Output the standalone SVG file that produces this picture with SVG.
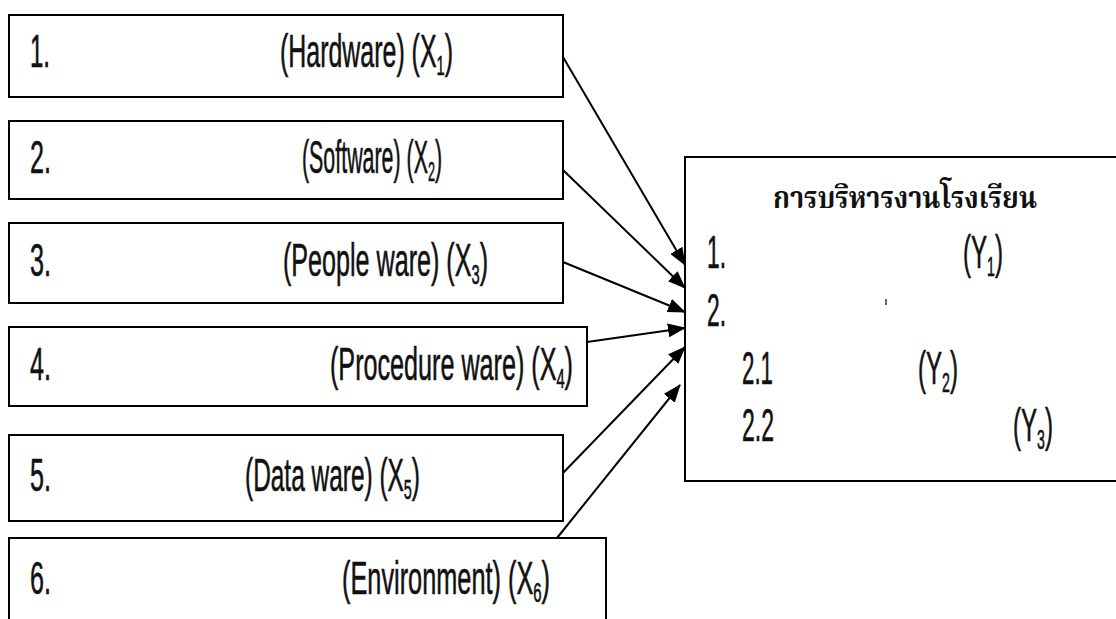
<svg xmlns="http://www.w3.org/2000/svg" width="1116" height="619" viewBox="0 0 1116 619">
<style>
.box{fill:#fff;stroke:#000;stroke-width:2}
.t{font-family:"Liberation Sans Narrow","Liberation Sans","DejaVu Sans Condensed",sans-serif;font-size:46px;fill:#111;stroke:#111;stroke-width:0.6}
.sub{font-size:27px}
.th{font-family:"Noto Serif Thai","Noto Sans Thai","Tlwg Typo","Loma","Garuda","DejaVu Serif",serif;font-weight:bold;font-size:31px;fill:#111}
.conn{stroke:#000;stroke-width:2;fill:none}
</style>
<defs>
<marker id="ah" markerUnits="userSpaceOnUse" markerWidth="18" markerHeight="14" refX="17" refY="7" orient="auto">
<path d="M0,0 L18,7 L0,14 z" fill="#000"/>
</marker>
</defs>
<rect width="1116" height="619" fill="#fff"/>
<g id="n1">
<rect class="box" x="9" y="15" width="554" height="82"/>
<text class="t" x="30" y="67" textLength="20" lengthAdjust="spacingAndGlyphs">1.</text>
<text class="t" x="280" y="67" textLength="173" lengthAdjust="spacingAndGlyphs">(Hardware) (X<tspan class="sub" dy="8">1</tspan><tspan dy="-8">)</tspan></text>
</g>
<g id="n2">
<rect class="box" x="9" y="121" width="554" height="78"/>
<text class="t" x="30" y="173" textLength="21" lengthAdjust="spacingAndGlyphs">2.</text>
<text class="t" x="302" y="173" textLength="140" lengthAdjust="spacingAndGlyphs">(Software) (X<tspan class="sub" dy="8">2</tspan><tspan dy="-8">)</tspan></text>
</g>
<g id="n3">
<rect class="box" x="9" y="223" width="554" height="80"/>
<text class="t" x="30" y="276" textLength="21" lengthAdjust="spacingAndGlyphs">3.</text>
<text class="t" x="283" y="276" textLength="205" lengthAdjust="spacingAndGlyphs">(People ware) (X<tspan class="sub" dy="8">3</tspan><tspan dy="-8">)</tspan></text>
</g>
<g id="n4">
<rect class="box" x="9" y="327" width="578" height="79"/>
<text class="t" x="30" y="380" textLength="21" lengthAdjust="spacingAndGlyphs">4.</text>
<text class="t" x="330" y="380" textLength="243" lengthAdjust="spacingAndGlyphs">(Procedure ware) (X<tspan class="sub" dy="8">4</tspan><tspan dy="-8">)</tspan></text>
</g>
<g id="n5">
<rect class="box" x="9" y="435" width="554" height="86"/>
<text class="t" x="30" y="491" textLength="21" lengthAdjust="spacingAndGlyphs">5.</text>
<text class="t" x="245" y="491" textLength="175" lengthAdjust="spacingAndGlyphs">(Data ware) (X<tspan class="sub" dy="8">5</tspan><tspan dy="-8">)</tspan></text>
</g>
<g id="n6">
<rect class="box" x="9" y="538" width="597" height="100"/>
<text class="t" x="30" y="594" textLength="21" lengthAdjust="spacingAndGlyphs">6.</text>
<text class="t" x="342" y="594" textLength="208" lengthAdjust="spacingAndGlyphs">(Environment) (X<tspan class="sub" dy="8">6</tspan><tspan dy="-8">)</tspan></text>
</g>
<g id="y">
<rect class="box" x="685" y="157" width="440" height="324"/>
<text class="th" x="773" y="208" textLength="264" lengthAdjust="spacingAndGlyphs">การบริหารงานโรงเรียน</text>
<text class="t" x="707" y="268" textLength="19" lengthAdjust="spacingAndGlyphs">1.</text>
<text class="t" x="963" y="268" textLength="40" lengthAdjust="spacingAndGlyphs">(Y<tspan class="sub" dy="8">1</tspan><tspan dy="-8">)</tspan></text>
<text class="t" x="707" y="326" textLength="19" lengthAdjust="spacingAndGlyphs">2.</text>
<rect x="885" y="299" width="2" height="6" fill="#666"/>
<text class="t" x="742" y="384" textLength="31" lengthAdjust="spacingAndGlyphs">2.1</text>
<text class="t" x="918" y="384" textLength="40" lengthAdjust="spacingAndGlyphs">(Y<tspan class="sub" dy="8">2</tspan><tspan dy="-8">)</tspan></text>
<text class="t" x="742" y="441" textLength="32" lengthAdjust="spacingAndGlyphs">2.2</text>
<text class="t" x="1013" y="441" textLength="40" lengthAdjust="spacingAndGlyphs">(Y<tspan class="sub" dy="8">3</tspan><tspan dy="-8">)</tspan></text>
</g>
<g id="connectors">
<line class="conn" x1="563" y1="57" x2="685" y2="265" marker-end="url(#ah)"/>
<line class="conn" x1="563" y1="170" x2="685" y2="288" marker-end="url(#ah)"/>
<line class="conn" x1="563" y1="262" x2="685" y2="312" marker-end="url(#ah)"/>
<line class="conn" x1="587" y1="342" x2="685" y2="328" marker-end="url(#ah)"/>
<line class="conn" x1="563" y1="473" x2="685" y2="347" marker-end="url(#ah)"/>
<line class="conn" x1="557" y1="538" x2="680" y2="385" marker-end="url(#ah)"/>
</g>
</svg>
